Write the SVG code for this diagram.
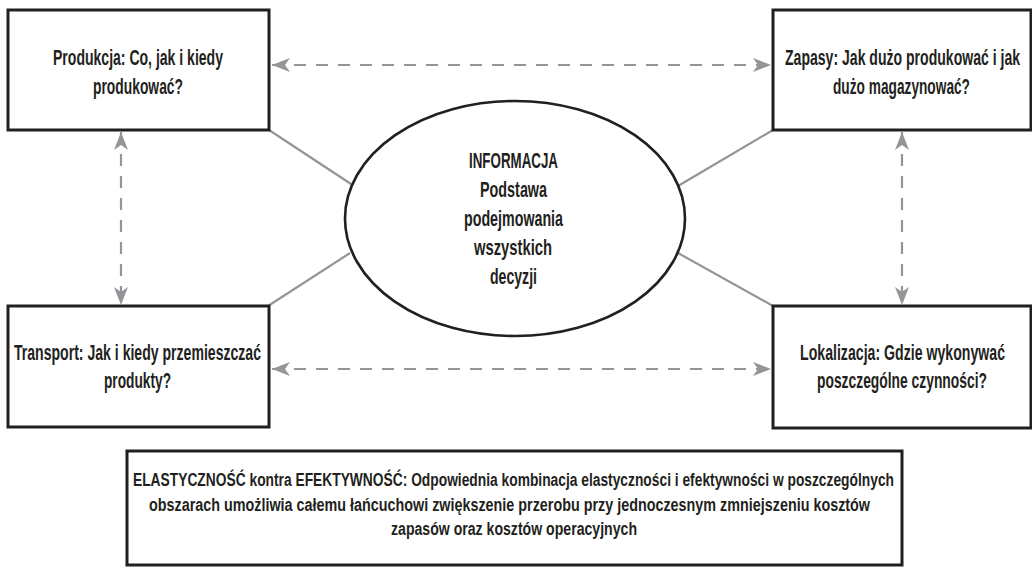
<svg xmlns="http://www.w3.org/2000/svg" width="1032" height="567" viewBox="0 0 1032 567">
<style>
.box{fill:#fff;stroke:#231f20;stroke-width:3}
.ell{fill:#fff;stroke:#231f20;stroke-width:2.6}
.t{font-family:"Liberation Sans Narrow","Liberation Sans","DejaVu Sans Condensed",sans-serif;font-size:22.5px;font-weight:bold;fill:#231f20}
.s{font-size:18.5px}
.solid{stroke:#939598;stroke-width:2.2;fill:none}
.dash{stroke:#939598;stroke-width:2.2;fill:none;stroke-dasharray:12 10;marker-start:url(#ah);marker-end:url(#ah)}
</style>
<defs>
<marker id="ah" markerUnits="userSpaceOnUse" markerWidth="18" markerHeight="14" refX="18" refY="7" orient="auto-start-reverse" viewBox="0 0 18 14">
<path d="M0,0 L18,7 L0,14 L5,7 Z" fill="#939598"/>
</marker>
</defs>
<rect width="1032" height="567" fill="#fff"/>
<g id="connectors">
<line class="solid" x1="269" y1="130" x2="351" y2="184"/>
<line class="solid" x1="268" y1="306" x2="350" y2="253"/>
<line class="solid" x1="773" y1="130" x2="678" y2="186"/>
<line class="solid" x1="773" y1="306" x2="678" y2="253"/>
<line class="dash" x1="272" y1="65" x2="771" y2="65"/>
<line class="dash" x1="272" y1="369" x2="771" y2="369"/>
<line class="dash" x1="121" y1="132" x2="121" y2="305"/>
<line class="dash" x1="902" y1="132" x2="902" y2="305"/>
</g>
<g id="produkcja">
<rect class="box" x="8" y="10" width="261" height="120"/>
<text class="t" transform="translate(53,65) scale(0.6,1)" textLength="283.3" lengthAdjust="spacingAndGlyphs">Produkcja: Co, jak i kiedy</text>
<text class="t" transform="translate(93,94) scale(0.6,1)" textLength="150" lengthAdjust="spacingAndGlyphs">produkować?</text>
</g>
<g id="zapasy">
<rect class="box" x="773" y="10" width="258" height="120"/>
<text class="t" transform="translate(785,65) scale(0.6,1)" textLength="391.7" lengthAdjust="spacingAndGlyphs">Zapasy: Jak dużo produkować i jak</text>
<text class="t" transform="translate(833,94) scale(0.6,1)" textLength="228.3" lengthAdjust="spacingAndGlyphs">dużo magazynować?</text>
</g>
<g id="transport">
<rect class="box" x="8" y="306" width="261" height="121"/>
<text class="t" transform="translate(14,360) scale(0.6,1)" textLength="411.7" lengthAdjust="spacingAndGlyphs">Transport: Jak i kiedy przemieszczać</text>
<text class="t" transform="translate(104,388) scale(0.6,1)" textLength="111.7" lengthAdjust="spacingAndGlyphs">produkty?</text>
</g>
<g id="lokalizacja">
<rect class="box" x="773" y="306" width="258" height="122"/>
<text class="t" transform="translate(800,360) scale(0.6,1)" textLength="341.7" lengthAdjust="spacingAndGlyphs">Lokalizacja: Gdzie wykonywać</text>
<text class="t" transform="translate(817,388) scale(0.6,1)" textLength="283.3" lengthAdjust="spacingAndGlyphs">poszczególne czynności?</text>
</g>
<g id="informacja">
<ellipse class="ell" cx="515" cy="218.5" rx="170" ry="117.5"/>
<text class="t" transform="translate(469,168) scale(0.6,1)" textLength="148.3" lengthAdjust="spacingAndGlyphs">INFORMACJA</text>
<text class="t" transform="translate(480,197) scale(0.6,1)" textLength="111.7" lengthAdjust="spacingAndGlyphs">Podstawa</text>
<text class="t" transform="translate(464,226) scale(0.6,1)" textLength="165" lengthAdjust="spacingAndGlyphs">podejmowania</text>
<text class="t" transform="translate(474,255) scale(0.6,1)" textLength="130" lengthAdjust="spacingAndGlyphs">wszystkich</text>
<text class="t" transform="translate(490,284) scale(0.6,1)" textLength="78.3" lengthAdjust="spacingAndGlyphs">decyzji</text>
</g>
<g id="elastycznosc">
<rect class="box" x="127" y="451" width="775" height="114"/>
<text class="t s" transform="translate(133,486) scale(0.6,1)" textLength="1268.3" lengthAdjust="spacingAndGlyphs">ELASTYCZNOŚĆ kontra EFEKTYWNOŚĆ: Odpowiednia kombinacja elastyczności i efektywności w poszczególnych</text>
<text class="t s" transform="translate(149,511) scale(0.6,1)" textLength="1201.7" lengthAdjust="spacingAndGlyphs">obszarach umożliwia całemu łańcuchowi zwiększenie przerobu przy jednoczesnym zmniejszeniu kosztów</text>
<text class="t s" transform="translate(391,535) scale(0.6,1)" textLength="410" lengthAdjust="spacingAndGlyphs">zapasów oraz kosztów operacyjnych</text>
</g>
</svg>
